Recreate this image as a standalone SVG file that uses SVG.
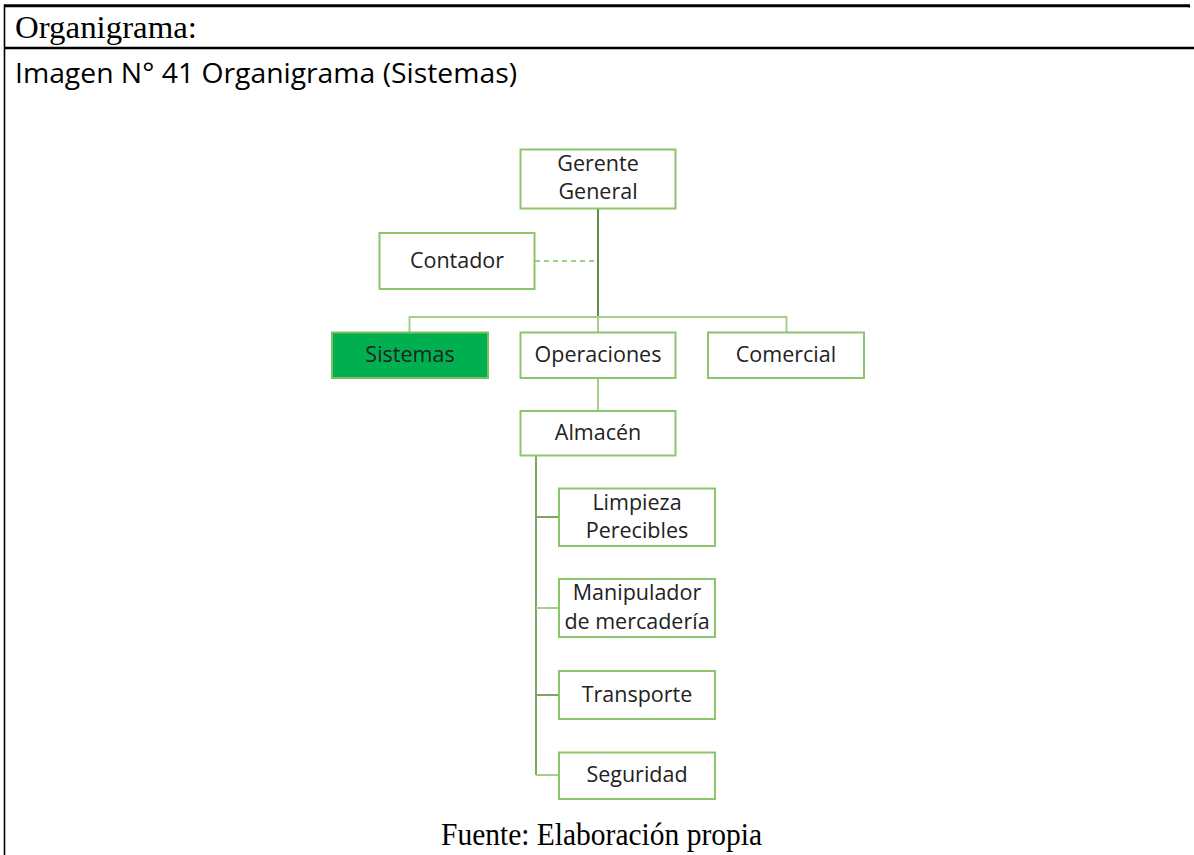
<svg xmlns="http://www.w3.org/2000/svg" width="1194" height="855" viewBox="0 0 1194 855">
  <style>
    .frame { stroke: #000; fill: none; }
    .box { fill: #fff; stroke: #8cc56b; stroke-width: 2; }
    .box-on { fill: #00b050; stroke: #7fbf62; stroke-width: 2; }
    .lbl { font-family: "Open Sans", "Liberation Sans", sans-serif; font-size: 21.5px; fill: #222; text-anchor: middle; }
    .serif { font-family: "Liberation Serif", "Times New Roman", serif; fill: #000; }
    .cap { font-family: "Open Sans", "Liberation Sans", sans-serif; fill: #000; }
    .trunk { stroke: #5f8f40; stroke-width: 2; fill: none; }
    .link { stroke: #a6cf8a; stroke-width: 2; fill: none; }
    .sub { stroke: #7ea663; stroke-width: 2; fill: none; }
    .dash { stroke: #7fbf62; stroke-width: 1.5; fill: none; stroke-dasharray: 5 4; }
  </style>
  <rect width="1194" height="855" fill="#fff"/>

  <!-- table frame -->
  <g id="frame">
    <line class="frame" x1="4" y1="5.7" x2="1189.5" y2="5.7" stroke-width="3"/>
    <line class="frame" x1="1189.3" y1="4.5" x2="1189.3" y2="7.5" stroke-width="1.5"/>
    <line class="frame" x1="4" y1="48" x2="1194" y2="48" stroke-width="2.5"/>
    <line class="frame" x1="4.5" y1="4.5" x2="4.5" y2="855" stroke-width="1.6"/>
  </g>

  <text class="serif" x="15" y="38" font-size="31" textLength="182" lengthAdjust="spacingAndGlyphs">Organigrama:</text>
  <text class="cap" x="15" y="83" font-size="27" textLength="502" lengthAdjust="spacingAndGlyphs">Imagen N° 41 Organigrama (Sistemas)</text>

  <!-- connectors -->
  <g id="connectors">
    <line class="trunk" x1="598" y1="208" x2="598" y2="317"/>
    <line class="link" x1="598" y1="317" x2="598" y2="332"/>
    <polyline class="link" points="409.5,332 409.5,317 786.5,317 786.5,332"/>
    <line class="dash" x1="535" y1="261" x2="597" y2="261"/>
    <line class="link" x1="598" y1="378" x2="598" y2="411"/>
    <line class="sub" x1="536" y1="455" x2="536" y2="775"/>
    <line class="sub" x1="536" y1="517" x2="559" y2="517"/>
    <line class="link" x1="536" y1="608" x2="559" y2="608"/>
    <line class="sub" x1="536" y1="695" x2="559" y2="695"/>
    <line class="link" x1="536" y1="775" x2="559" y2="775"/>
  </g>

  <g id="gerente">
    <rect class="box" x="520.5" y="149.5" width="155" height="59"/>
    <text class="lbl" x="598" y="171">Gerente</text>
    <text class="lbl" x="598" y="199">General</text>
  </g>
  <g id="contador">
    <rect class="box" x="379.5" y="233" width="155" height="56"/>
    <text class="lbl" x="457" y="268">Contador</text>
  </g>
  <g id="sistemas">
    <rect class="box-on" x="332" y="332.5" width="156" height="45.5"/>
    <text class="lbl" x="410" y="362">Sistemas</text>
  </g>
  <g id="operaciones">
    <rect class="box" x="520.5" y="332.5" width="155" height="45.5"/>
    <text class="lbl" x="598" y="362">Operaciones</text>
  </g>
  <g id="comercial">
    <rect class="box" x="708" y="332.5" width="156" height="45.5"/>
    <text class="lbl" x="786" y="362">Comercial</text>
  </g>
  <g id="almacen">
    <rect class="box" x="520.5" y="411" width="155" height="44.5"/>
    <text class="lbl" x="598" y="440">Almacén</text>
  </g>
  <g id="limpieza">
    <rect class="box" x="559" y="488.5" width="156" height="57.5"/>
    <text class="lbl" x="637" y="510">Limpieza</text>
    <text class="lbl" x="637" y="538">Perecibles</text>
  </g>
  <g id="manipulador">
    <rect class="box" x="559" y="579" width="156" height="58"/>
    <text class="lbl" x="637" y="600">Manipulador</text>
    <text class="lbl" x="637" y="629">de mercadería</text>
  </g>
  <g id="transporte">
    <rect class="box" x="559" y="671" width="156" height="48"/>
    <text class="lbl" x="637" y="702">Transporte</text>
  </g>
  <g id="seguridad">
    <rect class="box" x="559" y="752.5" width="156" height="46.5"/>
    <text class="lbl" x="637" y="782">Seguridad</text>
  </g>

  <text class="serif" x="441" y="845" font-size="31" textLength="321" lengthAdjust="spacingAndGlyphs">Fuente: Elaboración propia</text>
</svg>
